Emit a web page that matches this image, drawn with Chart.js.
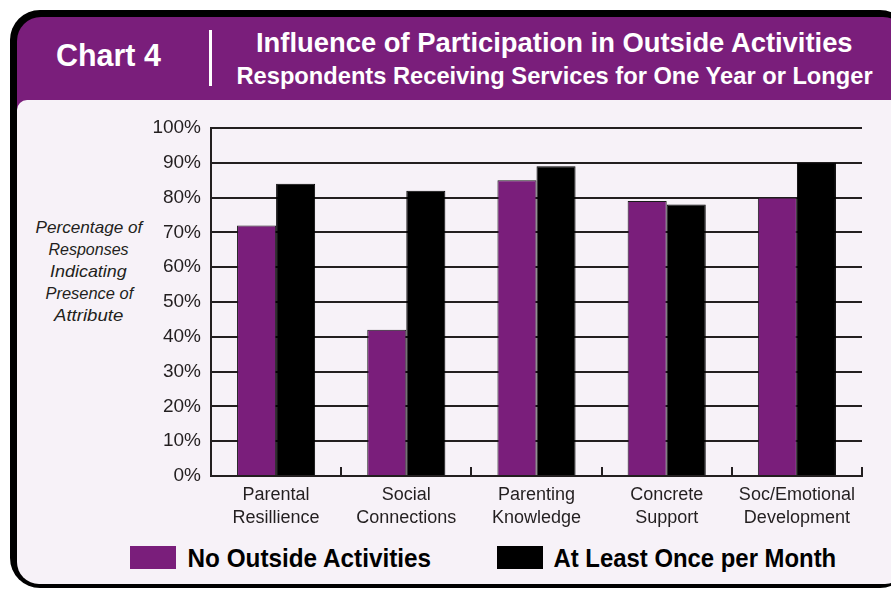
<!DOCTYPE html>
<html><head><meta charset="utf-8">
<script src="https://cdn.jsdelivr.net/npm/chart.js@4"></script>
<style>
html,body{margin:0;padding:0;width:891px;height:589px;overflow:hidden;background:#fff;font-family:"Liberation Sans",Arial,sans-serif}
#frame{position:absolute;left:10px;top:10px;width:900px;height:578px;background:#000;border-radius:30px}
#head{position:absolute;left:17px;top:17px;width:890px;height:566px;background:#7a1e7b;border-radius:24px}
#panel{position:absolute;left:17px;top:100px;width:890px;height:484px;background:#f7f2f8;border-radius:10px 10px 22px 22px}
#divider{position:absolute;left:209px;top:30px;width:3px;height:56px;background:#fff}
.t{position:absolute;white-space:nowrap;transform-origin:center center;line-height:1}
.w{color:#fff;font-weight:bold}
.yt{font-style:italic;font-size:17px;color:#231f20}
.lg{font-weight:bold;font-size:26px;color:#000}
.box{position:absolute;width:46px;height:23px}
#wrap{position:absolute;left:0;top:100px;width:891px;height:489px}
</style>
</head><body>
<div id="frame"></div>
<div id="head"></div>
<div id="panel"></div>
<div id="divider"></div>
<span class="t w" id="c4" style="font-size:31px">Chart 4</span>
<span class="t w" id="t1" style="font-size:27px">Influence of Participation in Outside Activities</span>
<span class="t w" id="t2" style="font-size:24px">Respondents Receiving Services for One Year or Longer</span>
<span class="t yt" id="y1">Percentage of</span>
<span class="t yt" id="y2">Responses</span>
<span class="t yt" id="y3">Indicating</span>
<span class="t yt" id="y4">Presence of</span>
<span class="t yt" id="y5">Attribute</span>
<div class="box" id="b1"></div>
<span class="t lg" id="l1"></span>
<div class="box" id="b2"></div>
<span class="t lg" id="l2"></span>
<div id="wrap"><canvas id="c" width="891" height="489"></canvas></div>
<script>
const categories = [["Parental","Resillience"],["Social","Connections"],["Parenting","Knowledge"],["Concrete","Support"],["Soc/Emotional","Development"]];
const seriesNames = ["No Outside Activities","At Least Once per Month"];
const noOutsideActivities = [72, 42, 85, 79, 80];
const atLeastOncePerMonth = [84, 82, 89, 78, 90];
const yTickValues = [0,10,20,30,40,50,60,70,80,90,100];
const PURPLE = '#7a1e7b', BLACK = '#000000';

function place(id, cx, cy, target){
  const el = document.getElementById(id);
  const w = el.offsetWidth, h = el.offsetHeight;
  el.style.left = (cx - w/2) + 'px';
  el.style.top = (cy - h/2) + 'px';
  const k = typeof target === 'number' && target > 5 ? target / w : (target || 1);
  el.style.transform = 'scaleX(' + k + ')';
  return k;
}
document.getElementById('l1').textContent = seriesNames[0];
document.getElementById('l2').textContent = seriesNames[1];
place('c4', 108.5, 55, 105);
place('t1', 554.5, 43, 597);
place('t2', 554, 76, 636);
place('y1', 89, 227, 107);
place('y2', 88.5, 249, 80);
place('y3', 88.5, 271, 77);
place('y4', 89, 293, 88);
place('y5', 88, 315, 69);
const b1 = document.getElementById('b1'); b1.style.left='130px'; b1.style.top='546px'; b1.style.background=PURPLE;
const b2 = document.getElementById('b2'); b2.style.left='497px'; b2.style.top='546px'; b2.style.background=BLACK;
place('l1', 309, 558, 244);
place('l2', 694.5, 558, 283);

const boundaryTicks = {
  id: 'boundaryTicks',
  afterDatasetsDraw(chart){
    const xs = chart.scales.x, a = chart.chartArea, ctx = chart.ctx;
    ctx.save();
    ctx.strokeStyle = '#231f20'; ctx.lineWidth = 2;
    for (let i = 1; i <= categories.length; i++){
      const px = Math.round(xs.getPixelForValue(i - 0.5));
      ctx.beginPath(); ctx.moveTo(px, a.bottom); ctx.lineTo(px, a.bottom - 9); ctx.stroke();
    }
    ctx.restore();
  }
};

new Chart(document.getElementById('c'), {
  type: 'bar',
  data: {
    labels: categories,
    datasets: [
      {label: seriesNames[0], data: noOutsideActivities, backgroundColor: PURPLE, borderColor: '#1a1a1a', borderWidth: 1, categoryPercentage: 0.6, barPercentage: 1.0},
      {label: seriesNames[1], data: atLeastOncePerMonth, backgroundColor: BLACK, borderColor: '#000', borderWidth: 1, categoryPercentage: 0.6, barPercentage: 1.0}
    ]
  },
  options: {
    responsive: false,
    animation: false,
    devicePixelRatio: 1,
    layout: {padding: {left: 0, right: 29, top: 28, bottom: 0}},
    plugins: {legend: {display: false}, tooltip: {enabled: false}},
    scales: {
      x: {
        afterFit: s => { s.height = 113; },
        grid: {display: false},
        border: {display: true, color: '#231f20', width: 2},
        ticks: {color: '#231f20', padding: 0, font: {family: '"Liberation Sans", Arial, sans-serif', size: 18, lineHeight: 1.25}, maxRotation: 0, autoSkip: false}
      },
      y: {
        min: 0, max: 100,
        afterFit: s => { s.width = 211; },
        afterBuildTicks: s => { s.ticks = yTickValues.map(v => ({value: v})); },
        grid: {color: '#231f20', lineWidth: 2, drawTicks: false},
        border: {display: true, color: '#231f20', width: 2},
        ticks: {color: '#231f20', padding: 10, font: {family: '"Liberation Sans", Arial, sans-serif', size: 19}, callback: v => v + '%'}
      }
    }
  },
  plugins: [boundaryTicks]
});
</script>
</body></html>
